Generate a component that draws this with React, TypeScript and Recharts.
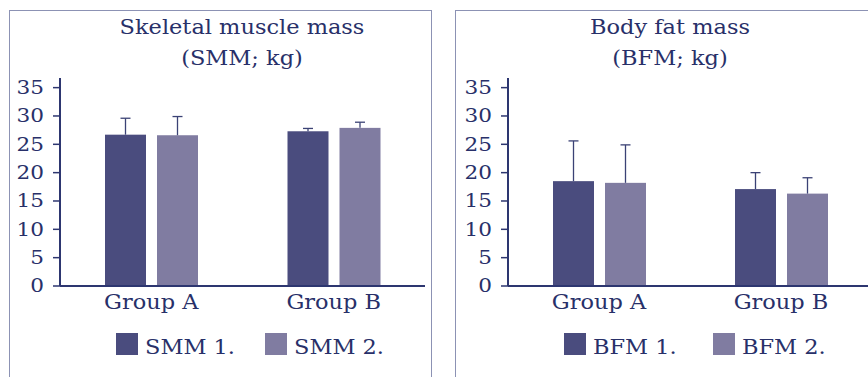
import React from 'react';
import { BarChart, Bar, XAxis, YAxis, Legend } from 'recharts';

const categories = ['Group A', 'Group B'];
const smm1 = [26.7, 27.3];
const smm1Err = [2.9, 0.5];
const smm2 = [26.6, 27.9];
const smm2Err = [3.3, 1.0];
const bfm1 = [18.5, 17.1];
const bfm1Err = [7.1, 2.9];
const bfm2 = [18.2, 16.3];
const bfm2Err = [6.7, 2.8];
const yTicks = [0, 5, 10, 15, 20, 25, 30, 35];
const seriesNames = { smm1: 'SMM 1.', smm2: 'SMM 2.', bfm1: 'BFM 1.', bfm2: 'BFM 2.' };
const titles = {
  smm: ['Skeletal muscle mass', '(SMM; kg)'],
  bfm: ['Body fat mass', '(BFM; kg)'],
};

const FONT = "'DejaVu Serif', serif";
const TEXT = '#283069';
const AXIS = '#2d3670';
const BORDER = '#8c92b4';
const C1 = '#4a4c7e';
const C2 = '#807ca1';
const WHISK = '#3b4275';
const SX_TICK = 1.2;
const SX = 1.07;

const smmData = categories.map((c, i) => ({ name: c, v1: smm1[i], e1: smm1Err[i], v2: smm2[i], e2: smm2Err[i] }));
const bfmData = categories.map((c, i) => ({ name: c, v1: bfm1[i], e1: bfm1Err[i], v2: bfm2[i], e2: bfm2Err[i] }));

const makeShape = (valKey: string, errKey: string) => (props: any) => {
  const { x, y, width, height, fill, payload } = props;
  const v = payload[valKey];
  const k = v ? height / v : 0;
  const top = y - payload[errKey] * k;
  const cx = x + width / 2;
  return (
    <g>
      <rect x={x} y={y} width={width} height={height} fill={fill} />
      <line x1={cx} x2={cx} y1={y} y2={top} stroke={WHISK} strokeWidth={1.3} />
      <line x1={cx - 5} x2={cx + 5} y1={top} y2={top} stroke={WHISK} strokeWidth={1.3} />
    </g>
  );
};

const YTick = (props: any) => {
  const { x, y, payload } = props;
  return (
    <text transform={`translate(${x},${y}) scale(${SX_TICK},1)`} textAnchor="end" dy="0.36em" fontSize={18} fontFamily={FONT} fill={TEXT}>
      {payload.value}
    </text>
  );
};

const XTick = (props: any) => {
  const { x, y, payload } = props;
  return (
    <text transform={`translate(${x},${y}) scale(${SX},1)`} textAnchor="middle" fontSize={21} fontFamily={FONT} fill={TEXT}>
      {payload.value}
    </text>
  );
};

const LegendContent = (props: any) => {
  const { payload } = props;
  return (
    <div style={{ display: 'flex' }}>
      {(payload || []).map((p: any, i: number) => (
        <div key={i} style={{ width: 149, display: 'flex', alignItems: 'flex-start' }}>
          <div style={{ width: 22, height: 22, background: p.color, flex: '0 0 22px' }} />
          <span
            style={{
              marginLeft: 7,
              fontFamily: FONT,
              fontSize: 21,
              lineHeight: '22px',
              color: TEXT,
              position: 'relative',
              top: 3,
              whiteSpace: 'nowrap',
              display: 'inline-block',
              transform: `scaleX(${SX})`,
              transformOrigin: 'left center',
            }}
          >
            {p.value}
          </span>
        </div>
      ))}
    </div>
  );
};

const Title = ({ lines, cx }: { lines: string[]; cx: number }) => (
  <div style={{ position: 'absolute', left: cx - 200, top: 12.2, width: 400, textAlign: 'center' }}>
    {lines.map((l, i) => (
      <div
        key={i}
        style={{
          fontFamily: FONT,
          fontSize: 21,
          lineHeight: '31px',
          color: TEXT,
          whiteSpace: 'nowrap',
          transform: `scaleX(${SX})`,
          transformOrigin: 'center',
        }}
      >
        {l}
      </div>
    ))}
  </div>
);

const Panel = ({ data, n1, n2, yWidth, right, legendLeft }: any) => (
  <BarChart
    width={440}
    height={377}
    data={data}
    margin={{ top: 78, right, bottom: 61, left: 0 }}
    barSize={41}
    barGap={11}
  >
    <XAxis
      dataKey="name"
      axisLine={{ stroke: AXIS, strokeWidth: 2 }}
      tickLine={false}
      tickSize={0}
      tickMargin={23}
      height={30}
      tick={<XTick />}
      interval={0}
    />
    <YAxis
      width={yWidth}
      domain={[0, 36.7]}
      ticks={yTicks}
      interval={0}
      axisLine={{ stroke: AXIS, strokeWidth: 2 }}
      tickLine={{ stroke: AXIS, strokeWidth: 1.5 }}
      tickSize={7}
      tickMargin={9}
      tick={<YTick />}
    />
    <Legend
      layout="horizontal"
      verticalAlign="middle"
      align="center"
      content={<LegendContent />}
      wrapperStyle={{ left: legendLeft, top: 333, width: 320, height: 24 }}
    />
    <Bar dataKey="v1" name={n1} fill={C1} isAnimationActive={false} shape={makeShape('v1', 'e1')} />
    <Bar dataKey="v2" name={n2} fill={C2} isAnimationActive={false} shape={makeShape('v2', 'e2')} />
  </BarChart>
);

export default function App() {
  return (
    <div style={{ position: 'fixed', left: 0, top: 0, width: 868, height: 377, overflow: 'hidden', background: '#fff' }}>
      <div style={{ position: 'absolute', left: 9, top: 10, width: 423, height: 420, boxSizing: 'border-box', border: `1.5px solid ${BORDER}` }} />
      <div style={{ position: 'absolute', left: 455, top: 10, width: 500, height: 420, boxSizing: 'border-box', border: `1.5px solid ${BORDER}` }} />
      <Title lines={titles.smm} cx={242} />
      <Title lines={titles.bfm} cx={670} />
      <div style={{ position: 'absolute', left: 0, top: 0 }}>
        <Panel data={smmData} n1={seriesNames.smm1} n2={seriesNames.smm2} yWidth={60} right={15} legendLeft={116} />
      </div>
      <div style={{ position: 'absolute', left: 440, top: 0 }}>
        <Panel data={bfmData} n1={seriesNames.bfm1} n2={seriesNames.bfm2} yWidth={68} right={8} legendLeft={124} />
      </div>
    </div>
  );
}
